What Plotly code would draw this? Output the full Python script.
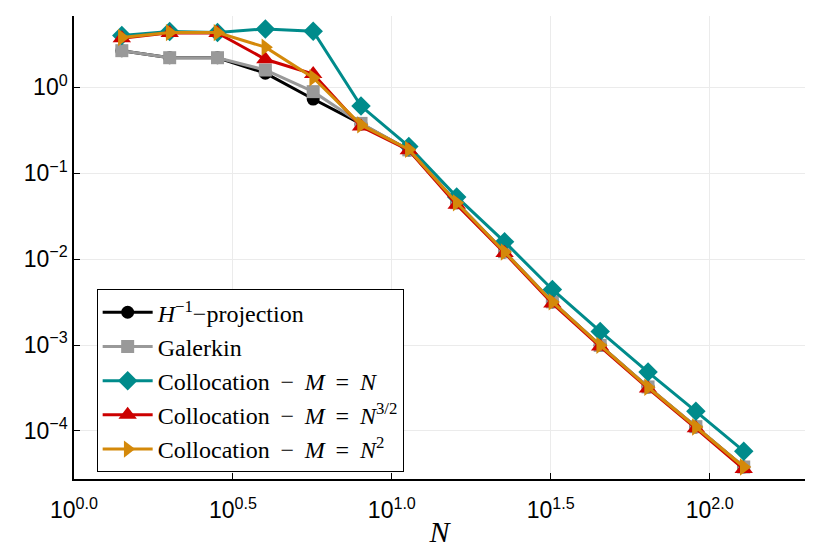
import plotly.graph_objects as go

# N = sqrt(2)^k
N = [1.414, 2.0, 2.828, 4.0, 5.657, 8.0, 11.31, 16.0, 22.63, 32.0, 45.25, 64.0, 90.51, 128.0]

err_h1 = [2.67, 2.21, 2.21, 1.46, 0.73, 0.375, 0.186, 0.0452, 0.0121, 0.00317, 0.00099, 0.000324, 0.000111, 3.8e-5]
err_galerkin = [2.67, 2.21, 2.21, 1.59, 0.89, 0.38, 0.187, 0.0453, 0.0122, 0.00318, 0.00099, 0.000325, 0.000112, 3.8e-5]
err_coll_n = [4.0, 4.45, 4.35, 4.78, 4.5, 0.605, 0.205, 0.053, 0.0159, 0.00443, 0.00144, 0.000484, 0.000169, 5.8e-5]
err_coll_n32 = [3.72, 4.3, 4.3, 2.12, 1.43, 0.35, 0.185, 0.043, 0.0118, 0.00305, 0.00096, 0.000312, 0.000107, 3.6e-5]
err_coll_n2 = [3.8, 4.33, 4.33, 2.93, 1.29, 0.365, 0.189, 0.0452, 0.0121, 0.00317, 0.00099, 0.000322, 0.000111, 3.8e-5]

x_tickvals = [1, 10**0.5, 10, 10**1.5, 100]
x_ticktext = ["10<sup>0.0</sup>", "10<sup>0.5</sup>", "10<sup>1.0</sup>", "10<sup>1.5</sup>", "10<sup>2.0</sup>"]
y_tickvals = [1, 1e-1, 1e-2, 1e-3, 1e-4]
y_ticktext = ["10<sup>0</sup>", "10<sup>−1</sup>", "10<sup>−2</sup>", "10<sup>−3</sup>", "10<sup>−4</sup>"]

# thin spaces widen the math operators a little, like the LaTeX legend
ts = "\u2009"
series = [
    ("<i>H</i><sup>−1</sup>−projection", err_h1, "black", "circle", 13),
    ("Galerkin", err_galerkin, "#999999", "square", 13),
    (f"Collocation{ts} − {ts}<i>M</i>{ts} = {ts}<i>N</i>", err_coll_n, "#008b8b", "diamond", 15),
    (f"Collocation{ts} − {ts}<i>M</i>{ts} = {ts}<i>N</i><sup>3/2</sup>", err_coll_n32, "#cc0000", "triangle-up", 16),
    (f"Collocation{ts} − {ts}<i>M</i>{ts} = {ts}<i>N</i><sup>2</sup>", err_coll_n2, "#d4890a", "triangle-right", 15),
]

fig = go.Figure()
for name, y, color, symbol, size in series:
    fig.add_trace(go.Scatter(
        x=N, y=y, mode="lines+markers", name=name,
        line=dict(color=color, width=3),
        marker=dict(color=color, symbol=symbol, size=size, line=dict(width=0)),
    ))

# page body has an 8px margin, so the figure is a bit smaller than the window
fig.update_layout(
    width=814, height=540,
    plot_bgcolor="white", paper_bgcolor="white",
    margin=dict(l=66, r=17, t=8, b=69),
    font=dict(family="Liberation Sans", color="black"),
    showlegend=True,
    legend=dict(
        x=0.031, y=0.41, xanchor="left", yanchor="top",
        bgcolor="white", bordercolor="black", borderwidth=1,
        font=dict(family="Liberation Serif", size=24, color="black"),
        tracegroupgap=0, itemwidth=50,
    ),
)
fig.update_xaxes(
    type="log", range=[0, 2.30], automargin=False,
    tickvals=x_tickvals, ticktext=x_ticktext,
    tickfont=dict(size=23), ticks="inside", ticklen=6, tickcolor="black",
    ticklabelstandoff=10,
    showline=True, linecolor="black", linewidth=1.5, mirror=False,
    showgrid=True, gridcolor="#ebebeb", zeroline=False,
    title=dict(text="<i>N</i>", font=dict(family="Liberation Serif", size=30), standoff=9),
)
fig.update_yaxes(
    type="log", range=[-4.56, 0.83], automargin=False,
    tickvals=y_tickvals, ticktext=y_ticktext,
    tickfont=dict(size=23), ticks="inside", ticklen=6, tickcolor="black",
    showline=True, linecolor="black", linewidth=1.5, mirror=False,
    showgrid=True, gridcolor="#ebebeb", zeroline=False,
)

fig.write_html("out.html")
